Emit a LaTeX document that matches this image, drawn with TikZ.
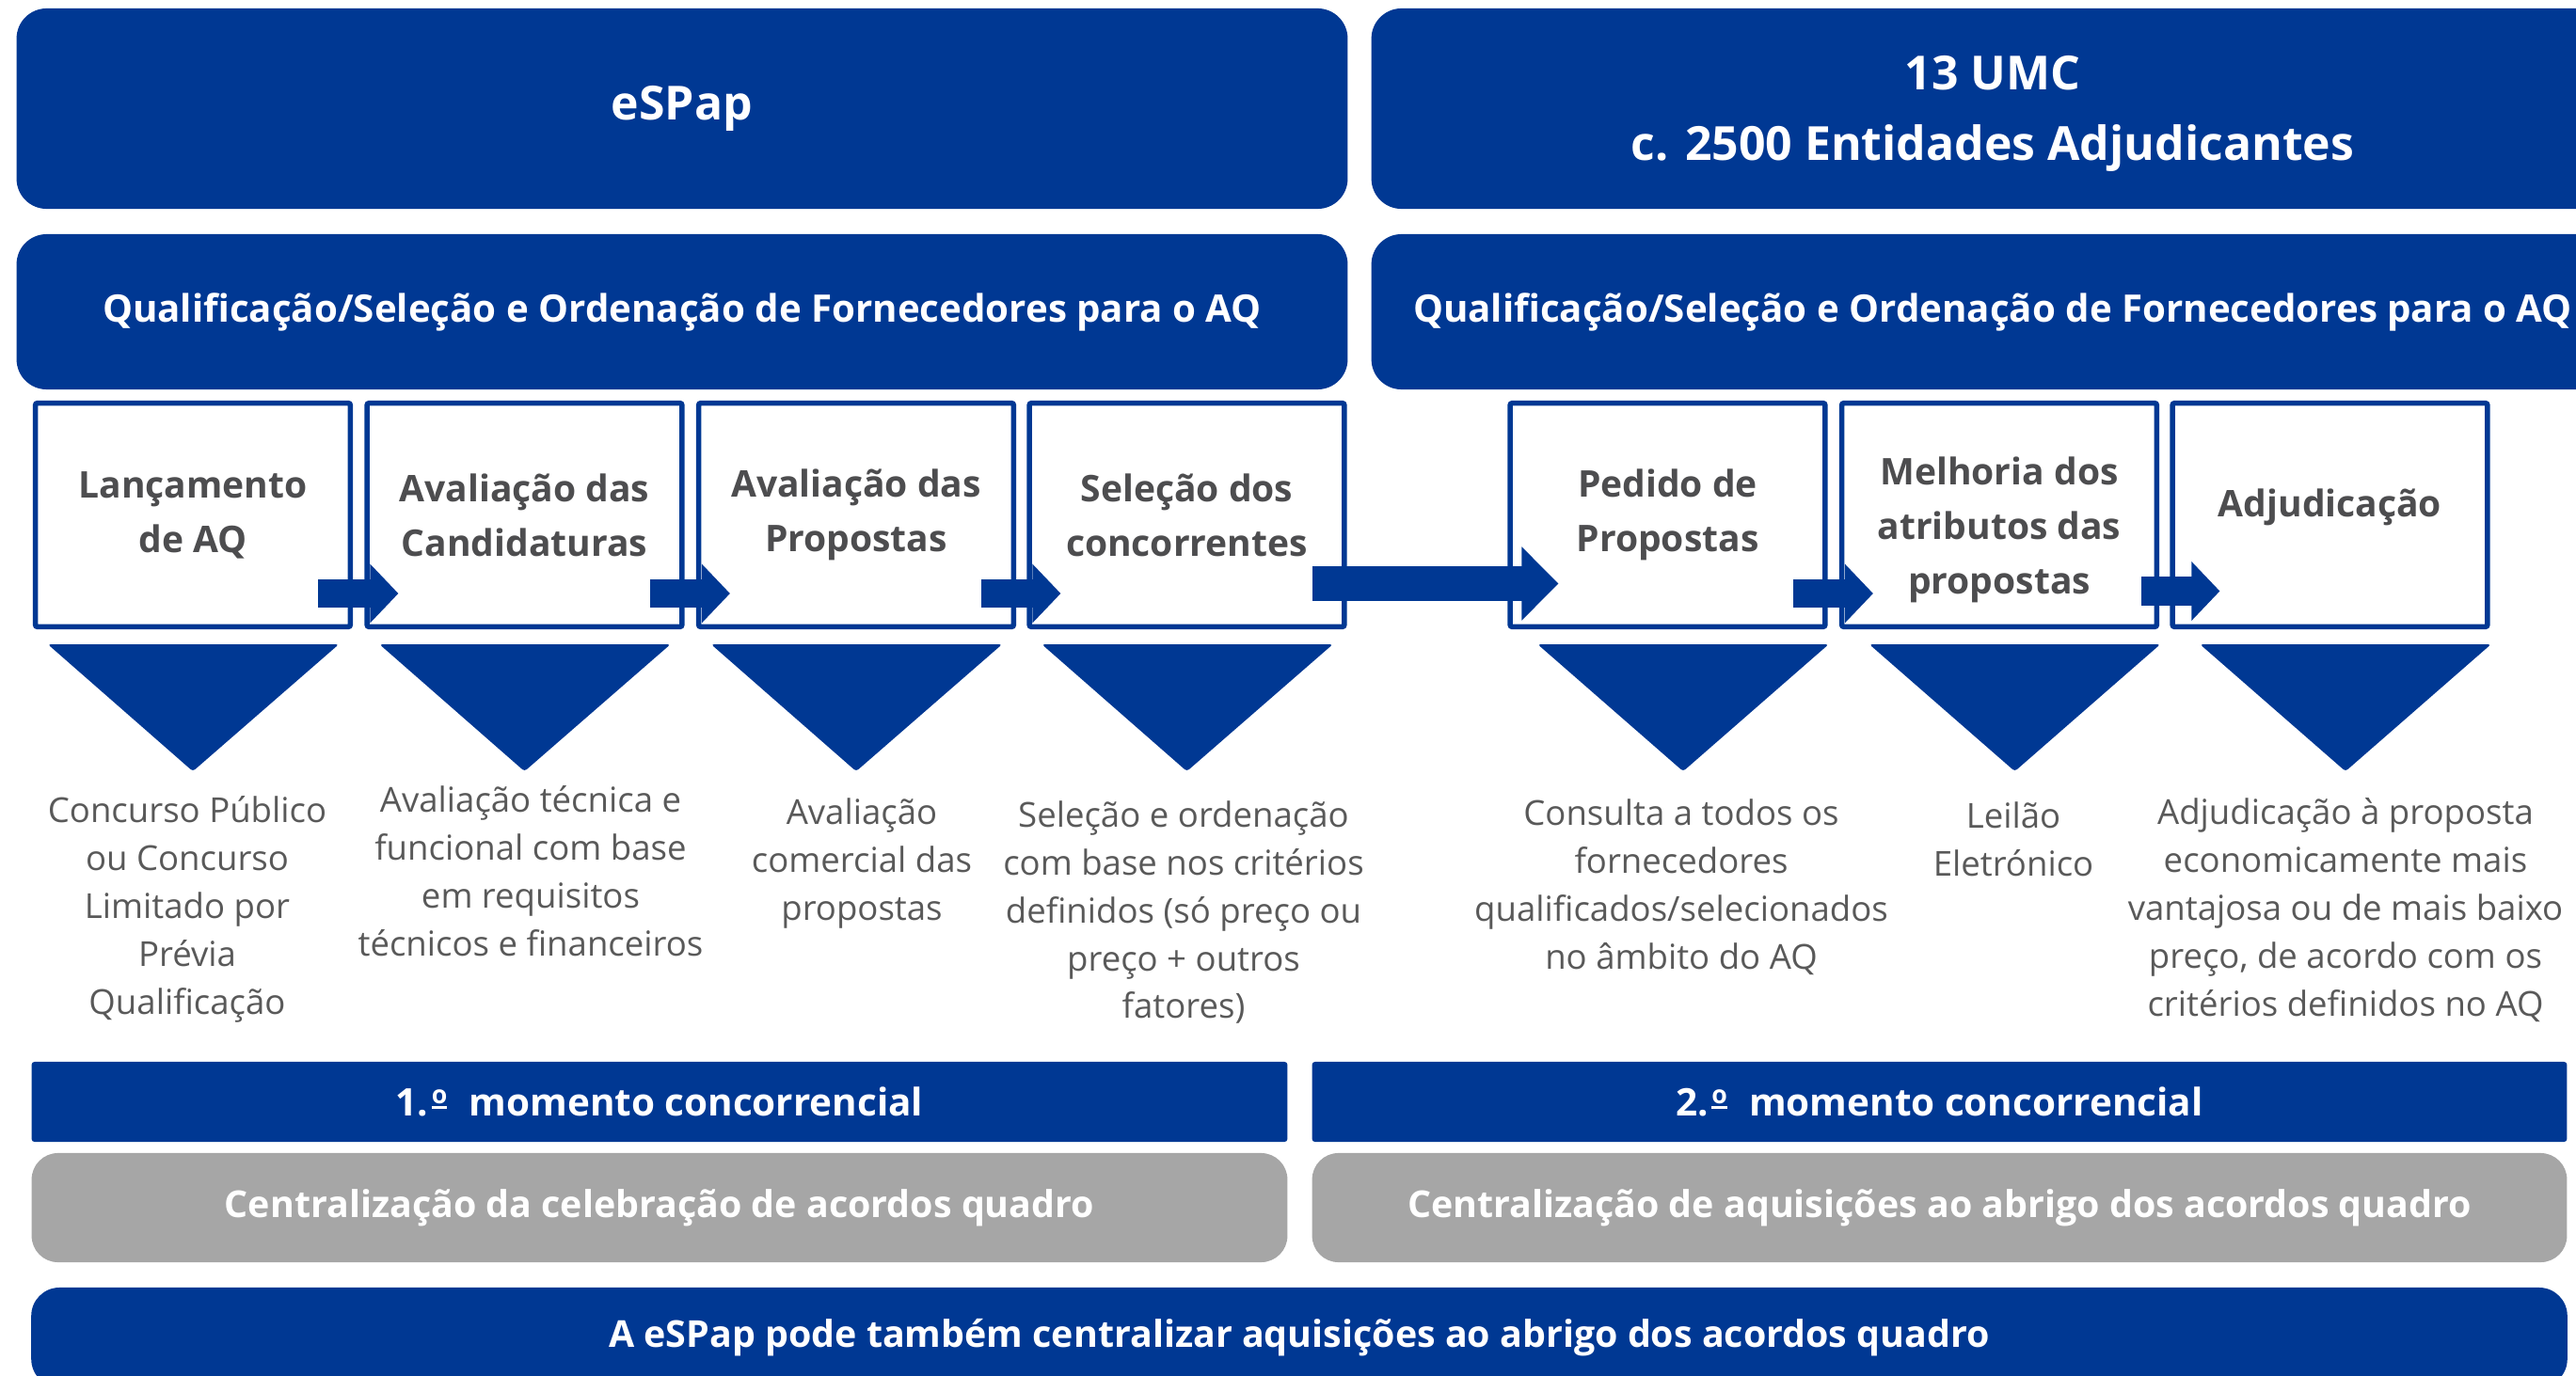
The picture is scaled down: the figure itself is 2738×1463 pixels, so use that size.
\documentclass[tikz,border=0pt]{standalone}
\usepackage{fontspec}
\setmainfont{Open Sans}
\usetikzlibrary{calc,arrows.meta}
\definecolor{bblue}{HTML}{003893}
\definecolor{tgray}{HTML}{4D4D4F}
\definecolor{dgray}{HTML}{595959}
\definecolor{lgray}{HTML}{A6A6A6}
\newcommand\hdrfont{\fontsize{14.2pt}{21.3pt}\selectfont\bfseries}
\newcommand\qfont{\fontsize{11.45pt}{13pt}\selectfont\bfseries}
\newcommand\titfont{\fontsize{11.1pt}{16.5pt}\selectfont\bfseries}
\newcommand\descfont{\fontsize{10.4pt}{14.5pt}\selectfont}
\newcommand\barfont{\fontsize{11.2pt}{13pt}\selectfont\bfseries}
\newcommand\momfont{\fontsize{11.5pt}{13pt}\selectfont\bfseries}
\newcommand\ordo{\makebox[4.8pt][l]{\raisebox{2.3pt}{\rule{4.6pt}{0.8pt}}\hspace{-4.6pt}\raisebox{3.6pt}{\fontsize{7.6pt}{7.6pt}\selectfont o}}}
\tikzset{
  hdrbox/.style={fill=bblue, rounded corners=0.32cm, text=white, align=center, inner sep=0pt},
  hdrtext/.style={text=white, align=center, inner sep=0pt, font=\hdrfont},
  stepbox/.style={draw=bblue, line width=0.055cm, fill=white, minimum width=3.345cm, minimum height=2.375cm, inner sep=0pt, rounded corners=0.02cm},
  steptitle/.style={text=tgray, align=center, font=\titfont, inner sep=0pt},
  desc/.style={text=dgray, align=center, font=\descfont, inner sep=0pt},
  bar/.style={fill=bblue, text=white, font=\momfont, inner sep=0pt, rounded corners=0.03cm},
  graybar/.style={fill=lgray, text=white, rounded corners=0.28cm, font=\barfont, inner sep=0pt},
  tri/.style={fill=bblue, rounded corners=0.03cm},
  blkarr/.style={draw=bblue, line width=0.30cm, -{Triangle[length=0.30cm,width=0.61cm]}},
  bigarr/.style={draw=bblue, line width=0.37cm, -{Triangle[length=0.39cm,width=0.76cm]}}
}
\begin{document}
\begin{tikzpicture}[x=0.01cm,y=-0.01cm]
\useasboundingbox (0,0) rectangle (2738,1463);
\clip (0,0) rectangle (2738,1463);
% headers
\node[hdrbox, minimum width=14.14cm, minimum height=2.13cm, font=\hdrfont] (espap) at (725,115.5) {eSPap};
\node[hdrbox, minimum width=13.20cm, minimum height=2.13cm] (umc) at (2118,115.5) {};
\node[hdrtext] (umct) at ($(umc)+(0,5)$) {13 UMC\\c. 2500 Entidades Adjudicantes};
\node[hdrbox, minimum width=14.14cm, minimum height=1.65cm, font=\qfont] (q1) at (725,331.5) {Qualificação/Seleção e Ordenação de Fornecedores para o AQ};
\node[hdrbox, minimum width=13.20cm, minimum height=1.65cm, font=\qfont] (q2) at (2118,331.5) {Qualificação/Seleção e Ordenação de Fornecedores para o AQ};
% step boxes
\node[stepbox] (b1) at (205,547.5) {};
\node[stepbox] (b2) at (557.5,547.5) {};
\node[stepbox] (b3) at (910,547.5) {};
\node[stepbox] (b4) at (1261.5,547.5) {};
\node[stepbox] (b5) at (1772.5,547.5) {};
\node[stepbox] (b6) at (2125,547.5) {};
\node[stepbox] (b7) at (2476.5,547.5) {};
% titles
\node[steptitle] (t1) at (b1) {Lançamento\\de AQ};
\node[steptitle] (t2) at (b2) {Avaliação das\\Candidaturas};
\node[steptitle] (t3) at (b3) {Avaliação das\\Propostas};
\node[steptitle] (t4) at (b4) {Seleção dos\\concorrentes};
\node[steptitle] (t5) at (b5) {Pedido de\\Propostas};
\node[steptitle] (t6) at ($(b6)+(0,16)$) {Melhoria dos\\atributos das\\propostas};
\node[steptitle] (t7) at ($(b7)+(0,-8)$) {Adjudicação};
% block arrows
\draw[blkarr] ($(b1.east)+(-37,83.5)$) -- ($(b2.west)+(36,83.5)$);
\draw[blkarr] ($(b2.east)+(-37,83.5)$) -- ($(b3.west)+(36,83.5)$);
\draw[blkarr] ($(b3.east)+(-37,83.5)$) -- ($(b4.west)+(36,83.5)$);
\draw[bigarr] ($(b4.east)+(-37,73)$) -- ($(b5.west)+(54,73)$);
\draw[blkarr] ($(b5.east)+(-37,83.5)$) -- ($(b6.west)+(36,83.5)$);
\draw[blkarr] ($(b6.east)+(-19,81)$) -- ($(b7.west)+(53,81)$);
% triangles
\foreach \b in {b1,b2,b3,b4}{
  \fill[tri] ($(\b.south west)+(16,16)$) -- ($(\b.south east)+(-15,16)$) -- ($(\b.south)+(0,151)$) -- cycle;
}
\foreach \b in {b5,b6,b7}{
  \fill[tri] ($(\b.south west)+(32,16)$) -- ($(\b.south east)+(1,16)$) -- ($(\b.south)+(16.5,151)$) -- cycle;
}
% descriptions
\node[desc] (d1) at (199,967) {Concurso Público\\ou Concurso\\Limitado por\\Prévia\\Qualificação};
\node[desc] (d2) at (564,926) {Avaliação técnica e\\funcional com base\\em requisitos\\técnicos e financeiros};
\node[desc] (d3) at (916,918) {Avaliação\\comercial das\\propostas};
\node[desc] (d4) at (1258,970) {Seleção e ordenação\\com base nos critérios\\definidos (só preço ou\\preço + outros\\fatores)};
\node[desc] (d5) at (1787,943) {Consulta a todos os\\fornecedores\\qualificados/selecionados\\no âmbito do AQ};
\node[desc] (d6) at (2140,892) {Leilão\\Eletrónico};
\node[desc] (d7) at (2493,968) {Adjudicação à proposta\\economicamente mais\\vantajosa ou de mais baixo\\preço, de acordo com os\\critérios definidos no AQ};
% bottom bars
\node[bar, minimum width=13.34cm, minimum height=0.85cm] (m1) at (701,1171.5) {1.\hspace{1pt}\ordo\hspace{6.5pt}momento concorrencial};
\node[bar, minimum width=13.33cm, minimum height=0.85cm] (m2) at (2061.5,1171.5) {2.\hspace{1pt}\ordo\hspace{6.5pt}momento concorrencial};
\node[graybar, minimum width=13.34cm, minimum height=1.16cm] (c1) at (701,1284) {Centralização da celebração de acordos quadro};
\node[graybar, minimum width=13.33cm, minimum height=1.16cm] (c2) at (2061.5,1284) {Centralização de aquisições ao abrigo dos acordos quadro};
\node[hdrbox, minimum width=26.94cm, minimum height=1.06cm, rounded corners=0.3cm, font=\barfont] (fin) at (1381,1422) {A eSPap pode também centralizar aquisições ao abrigo dos acordos quadro};
\end{tikzpicture}
\end{document}
